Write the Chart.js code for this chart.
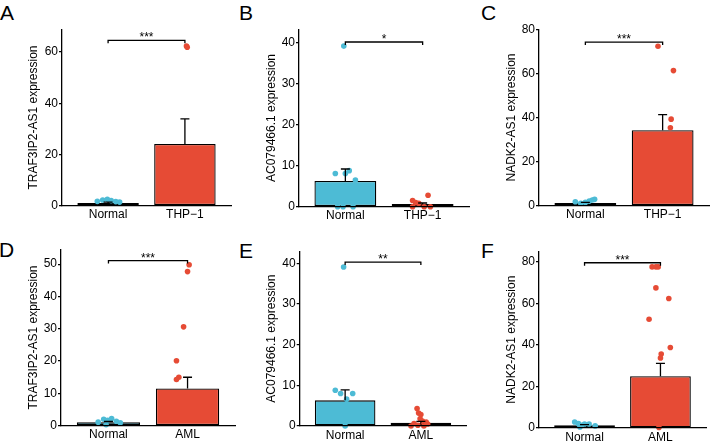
<!DOCTYPE html>
<html>
<head>
<meta charset="utf-8">
<script src="https://cdn.jsdelivr.net/npm/chart.js@4.4.1/dist/chart.umd.min.js"></script>
<style>
  html, body { margin: 0; padding: 0; background: #fff; }
  body { width: 717px; height: 445px; position: relative; overflow: hidden;
         font-family: "Liberation Sans", Arial, sans-serif; }
  canvas { position: absolute; }
  .tag { position: absolute; font-size: 21px; line-height: 21px; color: #000; }
</style>
</head>
<body>
<div class="tag" style="left:0px;top:2px">A</div>
<div class="tag" style="left:239px;top:2px">B</div>
<div class="tag" style="left:481px;top:2px">C</div>
<div class="tag" style="left:-1px;top:239px">D</div>
<div class="tag" style="left:239px;top:240px">E</div>
<div class="tag" style="left:481px;top:240px">F</div>

<canvas id="cA" width="239" height="222" style="left:0px;top:0px"></canvas>
<canvas id="cB" width="240" height="222" style="left:238px;top:0px"></canvas>
<canvas id="cC" width="239" height="222" style="left:478px;top:0px"></canvas>
<canvas id="cD" width="239" height="223" style="left:0px;top:222px"></canvas>
<canvas id="cE" width="240" height="223" style="left:238px;top:222px"></canvas>
<canvas id="cF" width="239" height="223" style="left:478px;top:222px"></canvas>

<script>
/* ---- data ---- */
const GROUPS_THP = ["Normal", "THP\u22121"];
const GROUPS_AML = ["Normal", "AML"];

// A: TRAF3IP2-AS1, Normal vs THP-1
const A_MEANS = [1.1, 24.1];
const A_SEM = [0.3, 9.8];
const A_NORMAL_Y = [1.7, 2.2, 2.5, 2.0, 1.6, 1.4];
const A_NORMAL_DX = [-0.14, -0.07, -0.01, 0.04, 0.10, 0.15];
const A_CASE_Y = [62.4, 61.9];
const A_CASE_DX = [0.02, 0.03];
const A_TICKS = [0, 20, 40, 60];

// B: AC079466.1, Normal vs THP-1
const B_MEANS = [6.3, 0.65];
const B_SEM = [2.9, 0.25];
const B_NORMAL_Y = [39.2, 8.1, 8.1, 8.8, 6.5, 0, 0, 0];
const B_NORMAL_DX = [-0.02, -0.13, 0.0, 0.05, 0.13, -0.10, -0.03, 0.10];
const B_CASE_Y = [1.5, 1.0, 0.8, 2.8, 0, 0, 0];
const B_CASE_DX = [-0.13, -0.09, -0.05, 0.07, -0.13, 0.02, 0.10];
const B_TICKS = [0, 10, 20, 30, 40];

// C: NADK2-AS1, Normal vs THP-1
const C_MEANS = [1.2, 34.4];
const C_SEM = [0.3, 7.1];
const C_NORMAL_Y = [1.8, 1.1, 1.5, 2.1, 2.6, 2.9];
const C_NORMAL_DX = [-0.13, -0.06, 0.0, 0.05, 0.09, 0.12];
const C_CASE_Y = [72.6, 61.5, 39.4, 35.5];
const C_CASE_DX = [-0.06, 0.14, 0.11, 0.10];
const C_TICKS = [0, 20, 40, 60, 80];

// D: TRAF3IP2-AS1, Normal vs AML
const D_MEANS = [1.1, 11.5];
const D_SEM = [0.2, 3.5];
const D_NORMAL_Y = [1.1, 2.0, 1.7, 2.2, 1.4, 0.9, 0.3];
const D_NORMAL_DX = [-0.13, -0.06, -0.01, 0.04, 0.10, 0.15, -0.03];
const D_CASE_Y = [49.8, 47.7, 30.6, 20.1, 15.0, 14.3];
const D_CASE_DX = [0.02, 0.0, -0.05, -0.14, -0.11, -0.14];
const D_TICKS = [0, 10, 20, 30, 40, 50];

// E: AC079466.1, Normal vs AML
const E_MEANS = [6.3, 0.8];
const E_SEM = [2.6, 0.35];
const E_NORMAL_Y = [39.1, 8.8, 8.0, 8.0, 6.6, 0];
const E_NORMAL_DX = [-0.02, -0.13, -0.06, 0.10, 0.02, 0.0];
const E_CASE_Y = [4.3, 3.2, 2.8, 1.8, 0.6, 1.2, 1.0, 0.5, 0.2, 0, 0];
const E_CASE_DX = [-0.05, -0.03, 0.0, -0.01, -0.09, 0.02, 0.07, 0.09, -0.04, 0.04, -0.13];
const E_TICKS = [0, 10, 20, 30, 40];

// F: NADK2-AS1, Normal vs AML
const F_MEANS = [1.3, 24.9];
const F_SEM = [0.3, 6.2];
const F_NORMAL_Y = [2.9, 2.1, 1.3, 1.9, 1.9, 1.0, 0.5];
const F_NORMAL_DX = [-0.13, -0.08, -0.04, 0.0, 0.06, 0.14, -0.06];
const F_CASE_Y = [77.5, 77.5, 77.5, 67.4, 62.3, 52.3, 38.7, 35.6, 33.7, 0.3];
const F_CASE_DX = [-0.11, -0.06, -0.03, -0.06, 0.11, -0.15, 0.13, 0.01, 0.0, -0.02];
const F_TICKS = [0, 20, 40, 60, 80];

const BLUE = "#4DBBD5";
const RED  = "#E64B35";
const INK  = "#000000";
const FONT = '"Liberation Sans", Arial, sans-serif';

Chart.defaults.font.family = FONT;
Chart.defaults.color = INK;

/* custom layer: SEM whiskers + significance bracket */
function extrasPlugin(p) {
  return {
    id: "extras",
    afterDatasetsDraw(chart) {
      const { ctx, scales: { x, y } } = chart;
      ctx.save();
      ctx.strokeStyle = INK;
      ctx.lineWidth = 1.3;
      p.means.forEach((m, i) => {
        const px = x.getPixelForValue(i + 1);
        const y0 = y.getPixelForValue(m);
        const y1 = y.getPixelForValue(m + p.sem[i]);
        ctx.beginPath();
        ctx.moveTo(px, y0);
        ctx.lineTo(px, y1);
        ctx.moveTo(px - 4.5, y1);
        ctx.lineTo(px + 4.5, y1);
        ctx.stroke();
      });
      const bx0 = x.getPixelForValue(1);
      const bx1 = x.getPixelForValue(2);
      const by = y.getPixelForValue(p.bracket);
      ctx.beginPath();
      ctx.moveTo(bx0, by + 3);
      ctx.lineTo(bx0, by);
      ctx.lineTo(bx1, by);
      ctx.lineTo(bx1, by + 3);
      ctx.stroke();
      ctx.fillStyle = INK;
      ctx.font = "12px " + FONT;
      ctx.textAlign = "center";
      ctx.textBaseline = "alphabetic";
      ctx.fillText(p.stars, (bx0 + bx1) / 2, by + 1);
      ctx.restore();
    }
  };
}

function points(ys, dxs, group) {
  return ys.map((v, i) => ({ x: group + dxs[i], y: v }));
}

function drawPanel(id, p, g) {
  const el = document.getElementById(id);
  const W = el.width, H = el.height;
  new Chart(el, {
    type: "bar",
    data: {
      datasets: [
        {
          type: "scatter",
          data: points(p.normalY, p.normalDx, 1),
          backgroundColor: BLUE,
          pointBackgroundColor: BLUE,
          pointBorderWidth: 0,
          pointRadius: 2.8,
          clip: false,
          order: 0
        },
        {
          type: "scatter",
          data: points(p.caseY, p.caseDx, 2),
          backgroundColor: RED,
          pointBackgroundColor: RED,
          pointBorderWidth: 0,
          pointRadius: 2.8,
          clip: false,
          order: 0
        },
        {
          type: "bar",
          data: p.means.map((m, i) => ({ x: i + 1, y: m })),
          backgroundColor: [BLUE, RED],
          borderColor: INK,
          borderWidth: 1.3,
          borderSkipped: false,
          barPercentage: 1,
          categoryPercentage: 0.8,
          order: 1
        }
      ]
    },
    options: {
      responsive: false,
      animation: false,
      events: [],
      layout: { padding: { top: g.top, right: W - g.right, bottom: 0, left: 0 } },
      plugins: { legend: { display: false }, tooltip: { enabled: false } },
      scales: {
        x: {
          type: "linear",
          offset: false,
          min: 0.4,
          max: 2.6,
          afterBuildTicks: s => { s.ticks = [{ value: 1 }, { value: 2 }]; },
          afterFit: s => { s.height = H - g.bottom; },
          grid: { display: false, drawTicks: false, offset: false },
          border: { color: INK, width: 1.3, z: 1 },
          ticks: {
            color: INK, font: { size: 12 }, padding: 2,
            autoSkip: false, maxRotation: 0,
            callback: v => p.groups[v - 1]
          }
        },
        y: {
          min: 0,
          max: p.max,
          afterBuildTicks: s => { s.ticks = p.ticks.map(v => ({ value: v })); },
          afterFit: s => { s.width = g.left; },
          grid: { drawOnChartArea: false, drawTicks: true, tickLength: 3, color: INK, lineWidth: 1.2 },
          border: { color: INK, width: 1.3 },
          ticks: { color: INK, font: { size: 12 }, padding: 1 },
          title: {
            display: true, text: p.title, color: INK,
            font: { size: 12 }, padding: { top: 26, bottom: 0 }
          }
        }
      }
    },
    plugins: [extrasPlugin(p)]
  });
}

drawPanel("cA", {
  groups: GROUPS_THP, title: "TRAF3IP2-AS1 expression",
  means: A_MEANS, sem: A_SEM, normalY: A_NORMAL_Y, normalDx: A_NORMAL_DX,
  caseY: A_CASE_Y, caseDx: A_CASE_DX, ticks: A_TICKS, max: 68.9,
  bracket: 64.6, stars: "***"
}, { left: 62, right: 231, top: 29.3, bottom: 205.7 });

drawPanel("cB", {
  groups: GROUPS_THP, title: "AC079466.1 expression",
  means: B_MEANS, sem: B_SEM, normalY: B_NORMAL_Y, normalDx: B_NORMAL_DX,
  caseY: B_CASE_Y, caseDx: B_CASE_DX, ticks: B_TICKS, max: 43.3,
  bracket: 40.2, stars: "*"
}, { left: 61, right: 231, top: 29.3, bottom: 206.7 });

drawPanel("cC", {
  groups: GROUPS_THP, title: "NADK2-AS1 expression",
  means: C_MEANS, sem: C_SEM, normalY: C_NORMAL_Y, normalDx: C_NORMAL_DX,
  caseY: C_CASE_Y, caseDx: C_CASE_DX, ticks: C_TICKS, max: 80.3,
  bracket: 74.5, stars: "***"
}, { left: 61, right: 231, top: 29.3, bottom: 205.7 });

drawPanel("cD", {
  groups: GROUPS_AML, title: "TRAF3IP2-AS1 expression",
  means: D_MEANS, sem: D_SEM, normalY: D_NORMAL_Y, normalDx: D_NORMAL_DX,
  caseY: D_CASE_Y, caseDx: D_CASE_DX, ticks: D_TICKS, max: 54.6,
  bracket: 51.1, stars: "***"
}, { left: 61, right: 237, top: 27.3, bottom: 203.7 });

drawPanel("cE", {
  groups: GROUPS_AML, title: "AC079466.1 expression",
  means: E_MEANS, sem: E_SEM, normalY: E_NORMAL_Y, normalDx: E_NORMAL_DX,
  caseY: E_CASE_Y, caseDx: E_CASE_DX, ticks: E_TICKS, max: 42.95,
  bracket: 40.3, stars: "**"
}, { left: 61.7, right: 228.3, top: 29.3, bottom: 204 });

drawPanel("cF", {
  groups: GROUPS_AML, title: "NADK2-AS1 expression",
  means: F_MEANS, sem: F_SEM, normalY: F_NORMAL_Y, normalDx: F_NORMAL_DX,
  caseY: F_CASE_Y, caseDx: F_CASE_DX, ticks: F_TICKS, max: 85,
  bracket: 79.5, stars: "***"
}, { left: 61, right: 228, top: 29.3, bottom: 206 });
</script>
</body>
</html>
